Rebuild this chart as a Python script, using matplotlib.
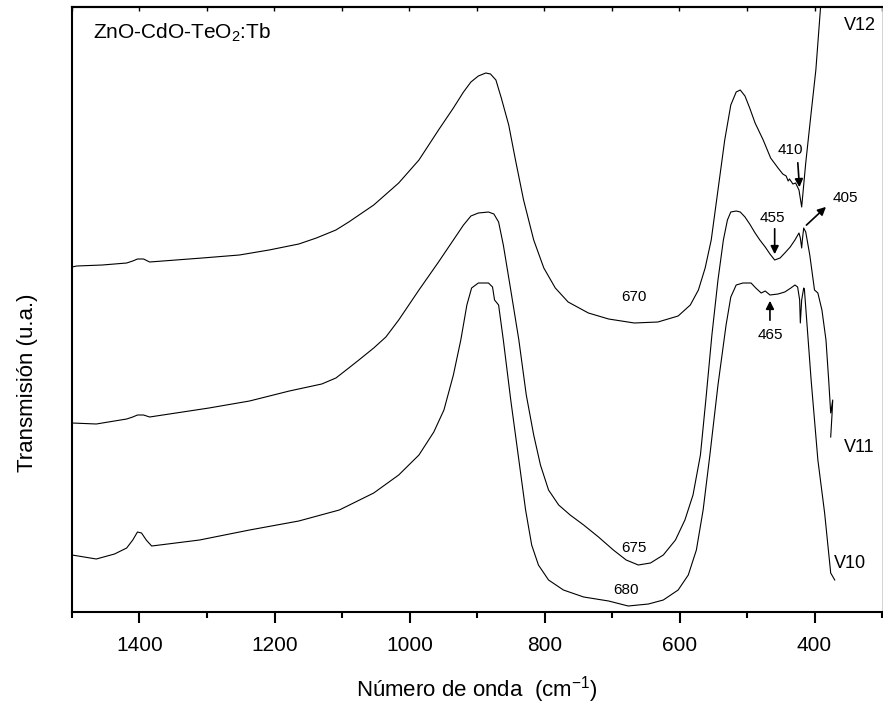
import matplotlib
matplotlib.use("Agg")
import matplotlib.pyplot as plt
from matplotlib.ticker import MultipleLocator

plt.rcParams["font.family"] = ["Liberation Sans", "DejaVu Sans"]
plt.rcParams["mathtext.fontset"] = "custom"
plt.rcParams["mathtext.rm"] = "Liberation Sans"
plt.rcParams["mathtext.it"] = "Liberation Sans:italic"

# wavenumber (cm-1) and transmission (arb. units, curves offset)
v12_x = [1500, 1493, 1455, 1419, 1410, 1403, 1394, 1385, 1307, 1252, 1208, 1164,
         1138, 1109, 1090, 1053, 1016, 986, 957, 935, 920, 909, 898, 887,
         880, 872, 864, 853, 843, 831, 816, 801, 784, 765, 735, 705,
         667, 632, 602, 584, 572, 562, 553, 543, 533, 524, 516, 510,
         503, 496, 488, 476, 465, 454, 447, 442, 439, 437, 432, 428,
         423, 419, 413, 405, 398, 391, 385]
v12_t = [345, 346, 347, 349, 351, 353, 353, 350, 354, 357, 362, 368,
         374, 382, 390, 407, 429, 452, 482, 504, 520, 530, 536, 539,
         538, 532, 514, 487, 452, 412, 372, 344, 324, 310, 299, 293,
         289, 290, 296, 307, 322, 344, 372, 422, 472, 507, 520, 522,
         516, 504, 489, 472, 454, 444, 438, 436, 431, 433, 428, 429,
         422, 405, 449, 499, 542, 605, 662]

v11_x = [1500, 1464, 1419, 1410, 1403, 1394, 1385, 1297, 1237, 1178, 1130, 1109,
         1090, 1075, 1053, 1035, 1016, 986, 957, 935, 920, 909, 898, 883,
         875, 868, 861, 850, 838, 827, 816, 806, 794, 779, 762, 742,
         720, 698, 679, 661, 643, 624, 606, 592, 580, 569, 561, 552,
         543, 535, 529, 524, 516, 510, 503, 496, 488, 481, 473, 466,
         459, 451, 444, 436, 429, 423, 421, 419, 418, 416, 413, 407,
         400, 395, 389, 383, 379, 376, 373, 374, 376]
v11_t = [189, 188, 193, 195, 197, 197, 195, 204, 211, 221, 228, 234,
         244, 252, 264, 275, 292, 322, 350, 372, 387, 396, 399, 400,
         398, 390, 367, 322, 272, 217, 177, 147, 122, 107, 97, 87,
         75, 62, 52, 47, 49, 57, 72, 92, 117, 157, 212, 277,
         332, 372, 392, 400, 401, 400, 395, 388, 379, 372, 365, 358,
         352, 354, 359, 365, 372, 379, 374, 364, 372, 384, 380, 357,
         322, 319, 302, 272, 232, 199, 212, 198, 175]

v10_x = [1500, 1464, 1437, 1419, 1410, 1403, 1397, 1390, 1382, 1370, 1311, 1237,
         1164, 1104, 1053, 1016, 986, 964, 949, 935, 924, 915, 908, 898,
         883, 877, 874, 868, 861, 850, 838, 828, 819, 809, 794, 772,
         742, 705, 676, 646, 624, 602, 587, 575, 565, 555, 543, 531,
         524, 516, 506, 494, 487, 479, 473, 466, 454, 444, 435, 429,
         425, 422, 421, 419, 416, 415, 405, 395, 385, 376, 370]
v10_t = [57, 53, 58, 64, 72, 80, 79, 72, 66, 67, 72, 82,
         91, 102, 119, 137, 157, 180, 202, 237, 272, 307, 324, 329,
         329, 325, 312, 307, 272, 212, 152, 102, 67, 47, 32, 22,
         15, 11, 6, 8, 12, 22, 37, 62, 102, 157, 227, 287,
         315, 327, 329, 329, 324, 319, 321, 317, 318, 320, 324, 327,
         325, 312, 289, 312, 324, 323, 232, 152, 99, 39, 32]

fig = plt.figure(figsize=(8.83, 7.14), dpi=100)
ax = fig.add_axes([72/883, 1 - 612/714, 810/883, 605/714])

for xs, ts in [(v12_x, v12_t), (v11_x, v11_t), (v10_x, v10_t)]:
    ax.plot(xs, ts, color="black", linewidth=0.8)

ax.set_xlim(1500, 300)
ax.set_ylim(0, 605)
ax.set_yticks([])
ax.xaxis.set_major_locator(MultipleLocator(200))
ax.xaxis.set_minor_locator(MultipleLocator(100))
ax.tick_params(axis="x", which="major", direction="out", length=8, width=1.5,
               labelsize=15, pad=9, top=False)
ax.tick_params(axis="x", which="minor", direction="out", length=4.5, width=1.5,
               top=False)

# short inward ticks along the top spine
top = ax.secondary_xaxis("top")
top.xaxis.set_major_locator(MultipleLocator(100))
top.tick_params(direction="in", length=3, width=1, labelsize=0)
top.set_xticklabels([])
top.spines["top"].set_linewidth(1.5)

for s in ["left", "bottom", "top"]:
    ax.spines[s].set_linewidth(1.5)
ax.spines["right"].set_linewidth(0.6)
ax.spines["right"].set_color("#cccccc")

ax.set_xlabel("Número de onda  (cm$^{-1}$)", fontsize=16, labelpad=14)
fig.text(28/883, 1 - 383/714, "Transmisión (u.a.)", rotation=90,
         fontsize=16, ha="center", va="center")

ax.text(0.026, 0.957, "ZnO-CdO-TeO$_2$:Tb", transform=ax.transAxes,
        fontsize=15, ha="left", va="center")

arrow = dict(arrowstyle="-|>", color="black", lw=1.2, mutation_scale=12)
ax.annotate("", xy=(422, 422), xytext=(425, 452), arrowprops=arrow)
ax.text(436, 462, "410", fontsize=11, ha="center", va="center")
ax.annotate("", xy=(459, 355), xytext=(459, 386), arrowprops=arrow)
ax.text(462, 394, "455", fontsize=11, ha="center", va="center")
ax.annotate("", xy=(380, 407), xytext=(415, 385), arrowprops=arrow)
ax.text(354, 414, "405", fontsize=11, ha="center", va="center")
ax.annotate("", xy=(466, 314), xytext=(466, 289), arrowprops=arrow)
ax.text(465, 277, "465", fontsize=11, ha="center", va="center")

ax.text(667, 315, "670", fontsize=11, ha="center", va="center")
ax.text(667, 64, "675", fontsize=11, ha="center", va="center")
ax.text(680, 22, "680", fontsize=11, ha="center", va="center")

ax.text(332, 586, "V12", fontsize=13, ha="center", va="center")
ax.text(333, 165, "V11", fontsize=13, ha="center", va="center")
ax.text(348, 49, "V10", fontsize=13, ha="center", va="center")

fig.savefig("out.png", dpi=100)
